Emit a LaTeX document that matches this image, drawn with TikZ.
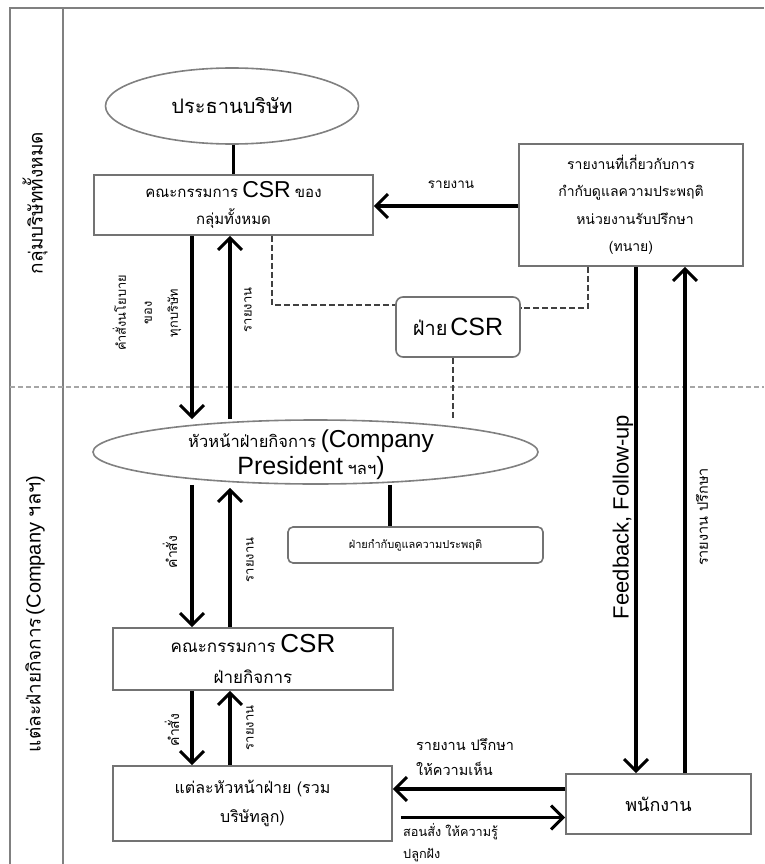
\documentclass[tikz,border=0pt]{standalone}
\usepackage{fontspec}
\setmainfont{Liberation Sans}
\newfontfamily\thf[Script=Thai]{Loma}
\usetikzlibrary{arrows.meta,shapes.geometric}
\newcommand\tx[1]{{\thf #1}}
\newcommand\fs[2]{\fontsize{#1}{#2}\selectfont}
\begin{document}
\begin{tikzpicture}[x=1pt,y=-1pt,
  frame/.style={draw=black!50, line width=1.8pt},
  lane/.style={draw=black!35, line width=2pt, dash pattern=on 5pt off 3pt},
  box/.style={draw=black!55, line width=1.6pt, fill=white, inner sep=0pt, align=center},
  rbox/.style={box, rounded corners=7pt},
  ell/.style={draw=black!50, line width=1.6pt, ellipse, fill=white, inner sep=0pt},
  arr/.style={draw=black, line width=3.2pt, -{Straight Barb[length=12pt,width=24pt,line width=3pt]}},
  conn/.style={draw=black, line width=3.2pt},
  dsh/.style={draw=black!75, line width=2.6pt, dash pattern=on 6pt off 3pt},
  lbl/.style={inner sep=0pt, align=center}]
\useasboundingbox (0,0) rectangle (764,864);

% frame and lanes
\draw[frame] (10,864) -- (10,8) -- (764,8);
\draw[frame] (63,8) -- (63,864);
\draw[lane] (10,387) -- (764,387);
\node[lbl, rotate=90] (lane1) at (35,203) {\tx{\fs{19}{22}กลุ่มบริษัททั้งหมด}};
\node[lbl, rotate=90] (lane2) at (35,614) {\tx{\fs{19}{22}แต่ละฝ่ายกิจการ} {\fs{20}{22}(Company \tx{ฯลฯ})}};

% nodes
\node[ell, minimum width=253pt, minimum height=76pt] (e1) at (232,106) {};
\node[lbl] (e1t) at (e1) {\tx{\fs{20}{24}ประธานบริษัท}};

\node[box, minimum width=279pt, minimum height=60pt, font=\fs{15}{27}] (b1) at (233.5,205)
  {\tx{คณะกรรมการ} {\fs{23}{27}CSR} \tx{ของ}\\\tx{กลุ่มทั้งหมด}};

\node[box, minimum width=224pt, minimum height=122pt, font=\fs{14}{27.5}] (rb) at (631,205)
  {\tx{รายงานที่เกี่ยวกับการ}\\\tx{กำกับดูแลความประพฤติ}\\\hspace{8pt}\tx{หน่วยงานรับปรึกษา}\\\tx{(ทนาย)}};

\node[rbox, minimum width=124pt, minimum height=60pt] (csr) at (458,327)
  {\tx{\fs{20}{24}ฝ่าย} {\fs{25}{24}CSR}};

\node[ell, minimum width=445pt, minimum height=64pt] (e2) at (315.5,452) {};
\node[lbl, font=\fs{16.5}{27}] (e2t) at (311,455)
  {\tx{หัวหน้าฝ่ายกิจการ} {\fs{24.5}{27}(Company}\\{\fs{25}{27}President} \tx{ฯลฯ}{\fs{25}{27})}};

\node[rbox, rounded corners=5pt, minimum width=255pt, minimum height=36pt] (gov) at (415.5,545)
  {\tx{\fs{11}{14}ฝ่ายกำกับดูแลความประพฤติ}};

\node[box, minimum width=280pt, minimum height=62pt, font=\fs{17}{31}] (b3) at (253,659)
  {\tx{คณะกรรมการ} {\fs{26}{31}CSR}\\\tx{ฝ่ายกิจการ}};

\node[box, minimum width=279pt, minimum height=75pt, font=\fs{16}{29}] (b4) at (252.5,803.5)
  {\tx{แต่ละหัวหน้าฝ่าย (รวม}\\\tx{บริษัทลูก)}};

\node[box, minimum width=185pt, minimum height=60pt] (emp) at (658.5,804)
  {\tx{\fs{18}{22}พนักงาน}};

% top lane connectors
\draw[conn] (e1.south -| b1.north) -- (b1.north);
\draw[arr] (rb.west |- 0,206) -- (b1.east |- 0,206);
\node[lbl] (l1) at (451,185) {\tx{\fs{13.5}{14}รายงาน}};

\coordinate (xa) at (192,0);
\coordinate (xb) at (230,0);
\draw[arr] (b1.south -| xa) -- (e2.north -| xa);
\draw[arr] (e2.north -| xb) -- (b1.south -| xb);
\node[lbl, rotate=90, font=\fs{12.8}{26}] (l2) at (147,313) {\tx{คำสั่งนโยบาย}\\\tx{ของ}\\\tx{ทุกบริษัท}};
\node[lbl, rotate=90] (l3) at (248,310) {\tx{\fs{13}{14}รายงาน}};

\coordinate (xc) at (272,0);
\coordinate (xd) at (588,0);
\draw[dsh] (b1.south -| xc) |- ([yshift=22pt]csr.west);
\draw[dsh] (rb.south -| xd) |- ([yshift=19pt]csr.east);
\draw[dsh] ([xshift=-5pt]csr.south) -- ([xshift=-5pt]csr.south |- e2.north);

% right side
\coordinate (xe) at (636,0);
\coordinate (xf) at (685,0);
\draw[arr] (rb.south -| xe) -- (emp.north -| xe);
\draw[arr] (emp.north -| xf) -- (rb.south -| xf);
\node[lbl, rotate=90] (l4) at (623,517) {\fs{22}{24}Feedback, Follow-up};
\node[lbl, rotate=90] (l5) at (702,517) {\tx{\fs{14.5}{16}รายงาน ปรึกษา}};

% lower lane connectors
\coordinate (xg) at (390,0);
\draw[conn] (e2.south -| xg) -- (gov.north -| xg);
\draw[arr] (e2.south -| xa) -- (b3.north -| xa);
\draw[arr] (b3.north -| xb) -- ([yshift=-3pt]e2.south -| xb);
\node[lbl, rotate=90] (l6) at (170,552) {\tx{\fs{14}{16}คำสั่ง}};
\node[lbl, rotate=90] (l7) at (250,560) {\tx{\fs{13}{14}รายงาน}};

\draw[arr] (b3.south -| xa) -- (b4.north -| xa);
\draw[arr] (b4.north -| xb) -- (b3.south -| xb);
\node[lbl, rotate=90] (l8) at (172,730) {\tx{\fs{14}{16}คำสั่ง}};
\node[lbl, rotate=90] (l9) at (250,728) {\tx{\fs{13}{14}รายงาน}};

\draw[arr] ([yshift=15pt]emp.west) -- ([yshift=15pt]emp.west -| b4.east);
\draw[arr] ([xshift=8pt,yshift=-14pt]b4.east) -- ([yshift=-14pt]b4.east -| emp.west);
\node[lbl, anchor=west, align=left, font=\fs{14.5}{25}] (l10) at (416,757) {\tx{รายงาน ปรึกษา}\\\tx{ให้ความเห็น}};
\node[lbl, anchor=west, align=left, font=\fs{12.7}{22}] (l11) at (403,843) {\tx{สอนสั่ง ให้ความรู้}\\\tx{ปลูกฝัง}};
\end{tikzpicture}
\end{document}
